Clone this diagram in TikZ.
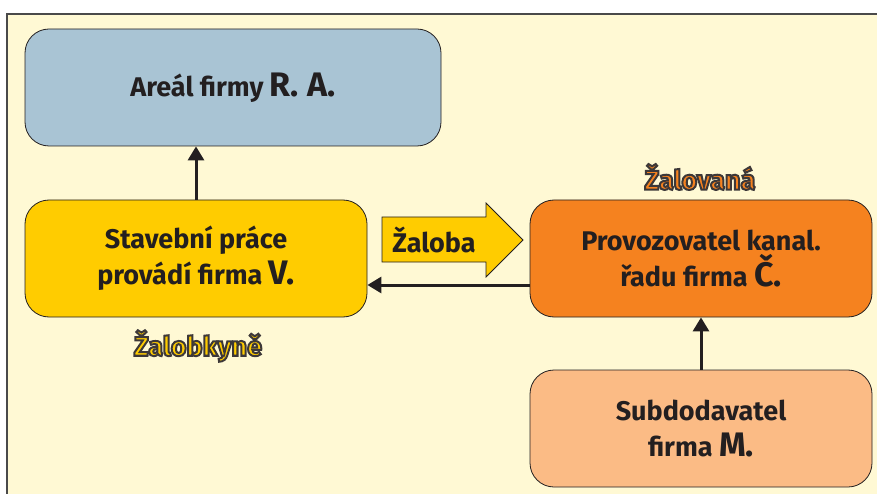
\documentclass[tikz,border=0pt]{standalone}
\usepackage{fontspec}
\setmainfont{Fira Sans}
\usetikzlibrary{arrows.meta}
\definecolor{bgc}{HTML}{FFF9D4}
\definecolor{framec}{HTML}{4A4A4A}
\definecolor{bluec}{HTML}{A9C4D4}
\definecolor{yelc}{HTML}{FFCC00}
\definecolor{orac}{HTML}{F5821F}
\definecolor{ltorac}{HTML}{FBBB85}
\definecolor{txtc}{HTML}{231F20}
\newcommand{\outlinetext}[2]{\textcolor{#1}{\special{pdf:code q 0.24 0.22 0.22 RG 2 Tr 2.0 w}#2\special{pdf:code Q}}}
\begin{document}
\begin{tikzpicture}[x=1pt,y=-1pt,
  box/.style={draw=txtc, line width=0.8pt, rounded corners=24pt, minimum width=#1, minimum height=117pt, align=center, font=\bfseries\fontsize{27}{36}\selectfont, text=txtc, inner sep=0pt},
  conn/.style={draw=txtc, line width=3pt, -{Triangle[length=14pt,width=16pt]}},
  lab/.style={font=\bfseries\fontsize{27}{30}\selectfont}]
\useasboundingbox (0,0) rectangle (877,494);
\fill[bgc] (7,14) rectangle (890,505);
\draw[framec, line width=1.5pt] (7,505) -- (7,14) -- (890,14);

\node[box=416pt, fill=bluec] (areal) at (233,87.5) {Areál firmy {\fontsize{34}{36}\selectfont R. A.}};
\node[box=342pt, fill=yelc] (stav) at (196,258.5) {Stavební práce\\provádí firma {\fontsize{34}{36}\selectfont V.}};
\node[box=342pt, fill=orac] (prov) at (701,258.5) {Provozovatel kanal.\\řadu firma {\fontsize{34}{36}\selectfont Č.}};
\node[box=342pt, fill=ltorac] (sub) at (701,428.5) {Subdodavatel\\firma {\fontsize{34}{36}\selectfont M.}};

\draw[conn] (stav.north) -- (stav.north |- areal.south);
\draw[conn] (sub.north) -- (prov.south);
\draw[conn] (prov.west |- 0,285) coordinate (pw) -- (stav.east |- pw);

% fat arrow
\draw[fill=yelc, draw=txtc, line width=0.8pt] (382,217) -- (486,217) -- (486,203) -- (523,240) -- (486,277) -- (486,262) -- (382,262) -- cycle;
\node[lab, text=txtc] (zal) at (434,240) {Žaloba};

% outlined labels
\node[lab] (lab1) at (700,177) {\outlinetext{orac}{Žalovaná}};
\node[lab] (lab2) at (198,346) {\outlinetext{yelc}{Žalobkyně}};
\end{tikzpicture}
\end{document}
